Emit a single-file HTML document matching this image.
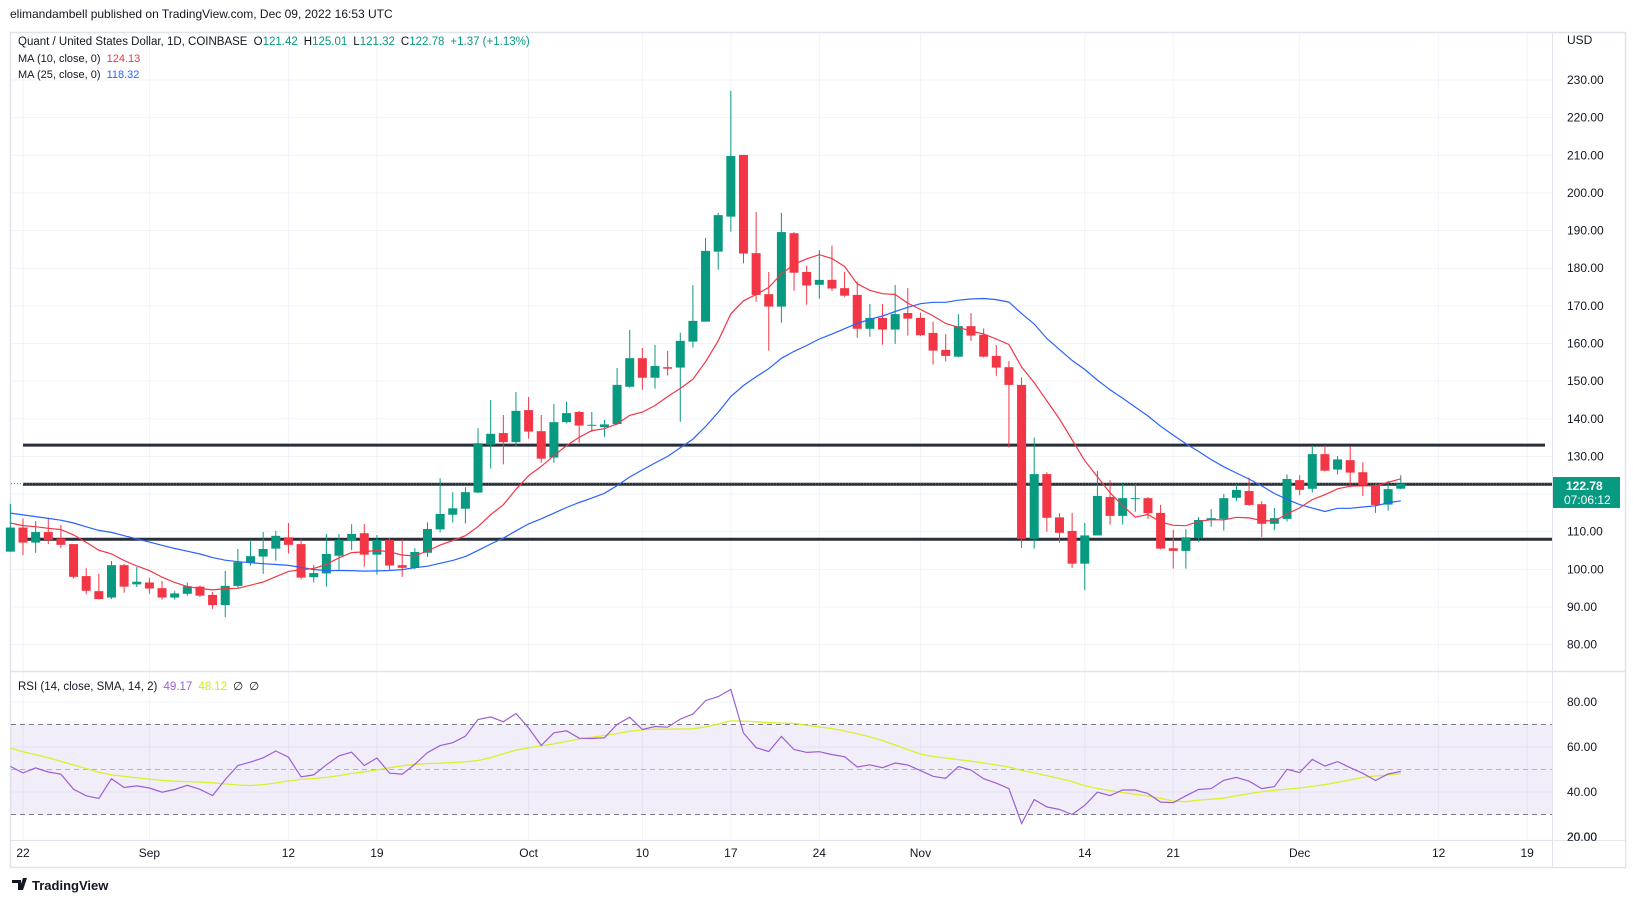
<!DOCTYPE html>
<html><head><meta charset="utf-8">
<style>
html,body{margin:0;padding:0;background:#fff;}
body{width:1633px;height:901px;overflow:hidden;position:relative;font-family:"Liberation Sans",sans-serif;}
svg text{font-family:"Liberation Sans",sans-serif;}
</style></head>
<body>
<svg id="chart" width="1633" height="901" xmlns="http://www.w3.org/2000/svg">
<text x="10" y="18" font-size="12" fill="#131722">elimandambell published on TradingView.com, Dec 09, 2022 16:53 UTC</text>
<rect x="10.5" y="32.5" width="1615" height="835" fill="none" stroke="#e0e3eb" stroke-width="1.5"/>
<g id="grid"></g>
<rect id="rsiband" x="11" y="0" width="1541" height="0" fill="#7e57c2" fill-opacity="0.1"/>
<g id="hlines"></g>
<g id="candles"></g>
<g id="mas"></g>
<g id="rsi"></g>
<line x1="11" y1="671.5" x2="1625" y2="671.5" stroke="#e0e3eb" stroke-width="1.5"/>
<line x1="1552.5" y1="33" x2="1552.5" y2="867" stroke="#e0e3eb" stroke-width="1"/>
<line x1="11" y1="840.5" x2="1625" y2="840.5" stroke="#e0e3eb" stroke-width="1"/>
<g id="axes"></g>
<g>
<text x="18" y="45" font-size="11.5" fill="#131722">Quant / United States Dollar, 1D, COINBASE <tspan fill="#131722" dx="3">O</tspan><tspan fill="#089981">121.42</tspan><tspan fill="#131722" dx="6">H</tspan><tspan fill="#089981">125.01</tspan><tspan fill="#131722" dx="6">L</tspan><tspan fill="#089981">121.32</tspan><tspan fill="#131722" dx="6">C</tspan><tspan fill="#089981">122.78</tspan><tspan fill="#089981" dx="6">+1.37 (+1.13%)</tspan></text>
<text x="18" y="62" font-size="11" fill="#131722">MA (10, close, 0) <tspan fill="#f23645" dx="3">124.13</tspan></text>
<text x="18" y="78" font-size="11" fill="#131722">MA (25, close, 0) <tspan fill="#2962ff" dx="3">118.32</tspan></text>
<text x="18" y="690" font-size="11.5" fill="#131722">RSI (14, close, SMA, 14, 2) <tspan fill="#9c5ed6" dx="3">49.17</tspan><tspan fill="#d4e81e" dx="6">48.12</tspan><tspan fill="#131722" dx="6">∅</tspan><tspan fill="#131722" dx="6">∅</tspan></text>
</g>
<text x="1567" y="44" font-size="12" fill="#131722">USD</text>
<g>
<rect x="1553" y="477" width="67" height="31" fill="#089981"/>
<text x="1566" y="490" font-size="12" font-weight="bold" fill="#fff">122.78</text>
<text x="1564" y="504" font-size="12" fill="#fff">07:06:12</text>
</g>
<g>
<path d="M12 880h9v10h-3v-7h-6z M23 878l4 0 -4 12h-4z" fill="#131722"/>
<text x="32" y="890" font-size="13" font-weight="bold" fill="#131722">TradingView</text>
</g>
</svg>
<script>
const open =[104.7,111.1,107.1,109.9,108.2,106.7,98.2,94.2,92.5,101.1,96.0,96.5,95.0,92.5,93.5,95.4,93.2,90.5,95.6,101.8,103.4,105.5,108.5,106.7,97.9,98.9,103.6,107.6,109.6,103.9,107.8,101.1,100.4,104.4,110.6,114.5,116.1,120.4,133.1,136.2,133.8,142.3,136.7,129.7,139.1,141.8,138.2,137.8,138.6,148.5,156.1,150.9,153.7,153.6,160.5,165.8,184.4,193.7,210.1,184.0,173.1,169.8,189.3,179.0,175.6,176.9,174.7,172.9,163.9,166.8,163.7,168.1,166.8,162.8,158.3,156.5,164.6,162.3,156.7,153.7,149.0,108.1,125.3,113.8,110.2,101.5,109.0,119.2,114.2,118.7,118.9,115.0,105.6,104.9,108.3,113.1,113.4,119.0,120.8,117.3,112.1,113.4,123.7,121.4,130.6,126.5,129.0,125.8,122.3,117.2,121.42];
const high =[117.4,113.5,112.8,113.5,111.8,106.7,100.3,98.9,102.2,101.4,100.6,97.7,96.9,94.2,96.5,95.7,94.0,99.6,105.4,107.5,109.9,110.2,112.3,108.1,101.1,109.4,109.4,112.0,112.0,109.1,108.4,108.0,105.6,112.5,124.2,120.5,121.8,137.5,145.0,141.0,147.1,145.8,141.0,143.9,144.5,142.1,141.8,139.7,153.5,163.6,158.8,159.6,158.0,162.9,175.5,188.0,194.7,227.1,210.1,194.9,179.0,194.7,189.6,180.7,184.8,186.0,179.0,176.5,170.5,170.5,175.5,174.7,168.2,165.8,162.5,167.8,168.1,164.0,159.6,155.3,151.0,135.0,125.8,114.9,115.0,112.3,126.1,123.7,122.7,122.7,119.2,117.1,110.5,110.7,113.9,116.0,120.0,122.6,124.4,118.1,116.3,125.2,125.0,132.9,132.9,130.1,132.7,128.4,122.8,123.5,125.01];
const low  =[104.7,103.8,104.4,106.7,105.6,97.6,93.4,92.0,92.1,93.8,95.3,93.5,91.9,92.0,93.0,92.6,89.5,87.3,95.0,101.0,98.8,102.3,104.2,97.3,96.5,95.4,99.9,105.1,100.7,98.6,99.6,98.0,100.0,103.3,109.8,112.4,112.2,120.2,126.8,127.9,132.6,134.7,128.3,128.3,138.8,133.6,136.5,135.2,138.3,148.3,147.7,148.0,151.5,139.2,158.9,165.8,179.6,189.7,181.3,171.1,158.1,165.5,174.0,170.3,171.9,174.0,172.4,161.5,161.8,159.7,159.9,162.1,162.0,154.4,155.2,156.3,160.7,156.3,151.4,132.4,105.7,105.5,110.0,107.1,100.4,94.5,109.0,111.9,111.9,115.3,113.4,105.3,100.2,100.2,107.3,111.3,110.3,118.1,116.9,108.6,110.4,112.7,119.7,120.4,126.0,125.2,121.8,119.5,115.0,115.6,121.32];
const close=[111.1,107.1,109.9,107.8,106.5,98.0,94.3,92.1,101.1,95.4,96.7,94.9,92.5,93.6,95.5,93.0,90.5,95.6,101.9,103.5,105.4,108.9,106.5,97.8,99.0,104.1,107.8,109.4,103.9,107.8,101.0,100.4,104.6,110.7,114.7,116.2,120.5,133.5,136.0,133.8,142.1,136.6,129.4,139.1,141.5,138.2,138.4,138.5,149.0,156.1,150.9,154.0,153.3,160.7,166.0,184.6,194.1,209.8,183.9,172.9,169.8,189.6,178.8,175.4,176.9,174.6,172.7,163.9,166.8,163.7,167.8,166.6,162.2,158.1,156.7,164.6,162.1,156.5,153.6,149.0,108.1,125.3,113.7,109.7,101.5,109.0,119.5,114.2,118.9,118.9,114.9,105.5,104.9,108.5,113.1,113.6,118.9,121.1,117.1,112.1,113.6,124.0,121.1,130.6,126.2,129.2,125.7,122.4,117.1,121.3,122.78];
const priorCloses=[119,121,120,118,117,119,116,115,117,118,116,114,115,113,112,114,113,112,110,112,114,113,111,113];
const rsiValues=[51.4,48.5,50.7,48.9,47.9,41.2,38.3,37.1,45.9,42.0,42.7,41.8,39.9,41.1,43.0,41.2,38.4,45.5,51.8,53.3,55.2,58.2,55.5,46.7,47.6,52.1,56.1,57.7,51.8,55.1,48.4,47.9,52.3,57.5,60.6,61.9,64.8,72.2,73.4,71.2,74.9,68.5,60.7,66.3,67.2,63.9,63.8,64.1,70.1,73.2,67.8,69.1,68.8,72.4,74.6,80.6,82.4,85.6,66.2,59.7,58.0,64.7,58.9,57.6,57.9,56.6,55.7,51.1,52.1,50.8,52.9,52.0,49.5,47.0,46.1,51.3,49.8,45.9,43.9,41.5,26.0,36.6,33.4,32.2,30.0,34.1,39.9,38.4,40.9,40.9,39.3,35.5,35.3,38.3,41.1,41.5,45.2,46.5,44.8,41.5,42.4,50.1,48.6,54.5,51.5,53.5,50.8,48.3,45.1,48.0,49.17];
const rsiSma=[59.5,57.9,56.6,55.2,53.6,52.0,50.4,48.8,47.6,47.0,46.3,45.7,45.2,44.8,44.6,44.4,44.1,43.6,43.1,42.9,43.3,44.0,44.9,45.6,46.0,46.5,47.3,48.2,49.0,49.8,50.8,51.6,52.3,52.6,52.8,53.1,53.4,54.0,55.3,57.0,58.6,59.7,60.5,61.4,62.5,63.5,64.3,65.1,66.0,67.0,67.6,67.9,67.9,68.0,68.1,69.0,70.2,71.6,71.5,71.2,70.9,70.6,70.5,69.7,68.9,68.2,67.1,65.9,64.5,62.9,60.9,58.8,56.9,55.8,55.1,54.4,53.7,52.9,52.0,51.1,49.6,48.5,47.3,46.0,44.6,42.8,41.6,40.6,39.8,39.0,38.2,37.2,36.0,35.7,36.4,36.8,37.3,38.3,39.3,40.1,40.8,41.3,41.8,42.5,43.3,44.3,45.4,46.5,47.1,47.6,48.2];
const priceTicks=[230,220,210,200,190,180,170,160,150,140,130,110,100,90,80];
const rsiTicks=[80,60,40,20];
const dateLabels=["22","Sep","12","19","Oct","10","17","24","Nov","14","21","Dec","12","19"];
const dateIndex=[1,11,22,29,41,50,57,64,72,85,92,102,113,120];
const levelLines=[133.0,122.6,108.0];

const NS="http://www.w3.org/2000/svg";
function xOf(i){return 10.36+i*12.64;}
function yP(p){return 80+(230-p)*3.764;}
function yR(r){return 702+(80-r)*2.25;}
function mk(tag,attrs,parent){const e=document.createElementNS(NS,tag);for(const k in attrs)e.setAttribute(k,attrs[k]);parent.appendChild(e);return e;}

const grid=document.getElementById('grid');
priceTicks.concat([120]).forEach(p=>{
  const l=mk('line',{x1:11,x2:1552,y1:yP(p),y2:yP(p),stroke:'#f0f3fa','stroke-width':1},grid);
  
  
});
[80,60,40].forEach(r=>{
  const l=mk('line',{x1:11,x2:1552,y1:yR(r),y2:yR(r),stroke:'#f0f3fa','stroke-width':1},grid);
  
  
});
dateIndex.forEach(d=>{
  const l=mk('line',{x1:xOf(d),x2:xOf(d),y1:33,y2:840,stroke:'#f0f3fa','stroke-width':1},grid);
  
  
});

const band=document.getElementById('rsiband');
band.setAttribute('y',yR(70));band.setAttribute('height',yR(30)-yR(70));
const rs=document.getElementById('rsi');
[70,50,30].forEach(r=>{
  const l=mk('line',{x1:11,x2:1552,y1:yR(r),y2:yR(r),stroke:r===50?'#b2b5be':'#787b86','stroke-width':1,'stroke-dasharray':'5,4'},rs);
  
  
});

const hl=document.getElementById('hlines');
levelLines.forEach((p,k)=>{
  const l=mk('line',{x1:23,x2:k===0?1545:1552,y1:yP(p),y2:yP(p),stroke:'#2a2e39','stroke-width':3},hl);
  
  
});
const lp=mk('line',{x1:11,x2:1552,y1:yP(close[close.length-1]),y2:yP(close[close.length-1]),stroke:'#089981','stroke-width':1,'stroke-dasharray':'1,2'},hl);



const cg=document.getElementById('candles');
for(let i=0;i<close.length;i++){
  const up=close[i]>=open[i];const col=up?'#089981':'#f23645';const x=xOf(i);
  const w=mk('line',{x1:x,x2:x,y1:yP(high[i]),y2:yP(low[i]),stroke:col,'stroke-width':1},cg);
  
  
  const top=yP(Math.max(open[i],close[i])),bot=yP(Math.min(open[i],close[i]));
  const b=mk('rect',{x:x-4.5,y:top,width:9,height:Math.max(1,bot-top),fill:col},cg);
  
  
}

const all=priorCloses.concat(close);
function ma(n){const out=[];for(let i=0;i<close.length;i++){const j=i+priorCloses.length;let s=0;for(let k=j-n+1;k<=j;k++)s+=all[k];out.push(s/n);}return out;}
function path(vals,yf){return vals.map((v,i)=>(i?'L':'M')+xOf(i).toFixed(1)+' '+yf(v).toFixed(1)).join(' ');}
const mg=document.getElementById('mas');
const m25=mk('path',{d:path(ma(25),yP),fill:'none',stroke:'#2962ff','stroke-width':1.2},mg);


const m10=mk('path',{d:path(ma(10),yP),fill:'none',stroke:'#f23645','stroke-width':1.2},mg);



const sm=mk('path',{d:path(rsiSma,yR),fill:'none',stroke:'#d9f02c','stroke-width':1.3},rs);


const rl=mk('path',{d:path(rsiValues,yR),fill:'none',stroke:'#9c5ed6','stroke-width':1.2},rs);



const ax=document.getElementById('axes');
priceTicks.forEach(p=>{
  const t=mk('text',{x:1567,y:yP(p)+4,'font-size':12,fill:'#131722'},ax);t.textContent=p.toFixed(2);
  
  
});
rsiTicks.forEach(r=>{
  const y=yR(r)+4; if(y>842) return;
  const t=mk('text',{x:1567,y:y,'font-size':12,fill:'#131722'},ax);t.textContent=r.toFixed(2);
  
  
});
const clip=mk('text',{x:1567,y:yR(20)+4,'font-size':12,fill:'#131722'},ax);clip.textContent='20.00';


mk('rect',{x:1553,y:840.8,width:72,height:26,fill:'#fff'},ax);
dateLabels.forEach((s,k)=>{
  const t=mk('text',{x:xOf(dateIndex[k]),y:857,'font-size':12,fill:'#131722','text-anchor':'middle'},ax);t.textContent=s;
  
  
});
</script>
</body></html>
